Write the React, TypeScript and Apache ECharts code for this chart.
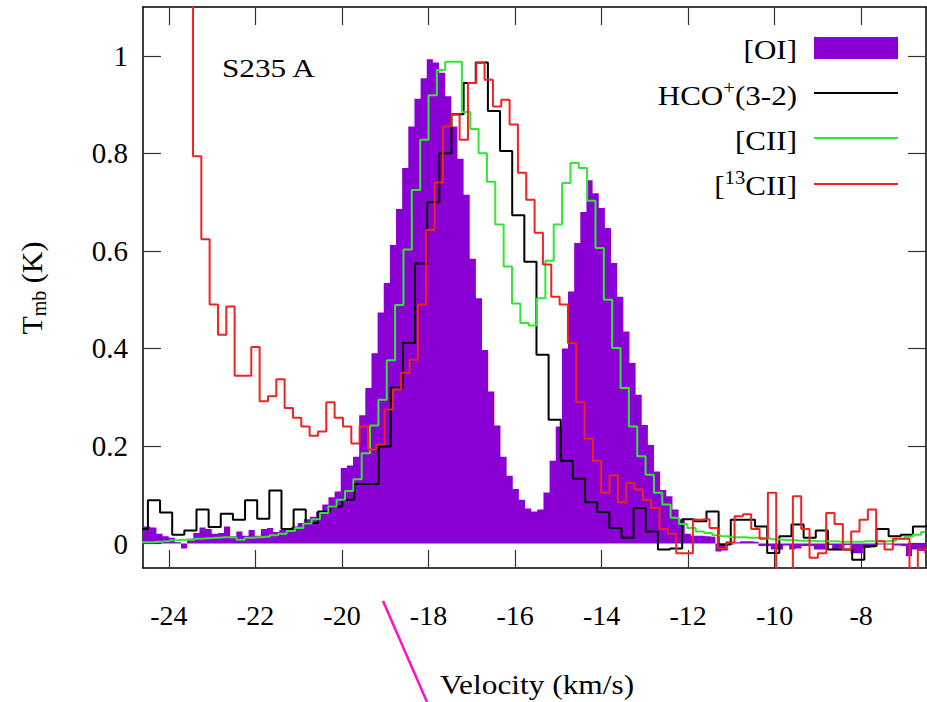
import React, { useEffect, useRef } from "react";
import * as echarts from "echarts";

// ---------- data ----------
const xTickValues = [-24, -22, -20, -18, -16, -14, -12, -10, -8];
const yTickValues = [0, 0.2, 0.4, 0.6, 0.8, 1];

// [OI] spectrum (channel centres start + i*step, km/s ; Tmb in K)
const oiStart = -24.644;
const oiStep = 0.142;
const oiValues = [
  0.035, 0.035, 0.033, 0.02, 0.015, 0.012, 0.003, -0.01, 0.01, 0.022,
  0.033, 0.03, 0.02, 0.022, 0.035, 0.015, 0.025, 0.016, 0.028, 0.016,
  0.03, 0.032, 0.024, 0.028, 0.03, 0.035, 0.042, 0.05, 0.055, 0.065,
  0.08, 0.095, 0.107, 0.155, 0.16, 0.178, 0.263, 0.319, 0.39, 0.474,
  0.534, 0.612, 0.686, 0.77, 0.855, 0.912, 0.954, 0.993, 0.986, 0.965,
  0.917, 0.855, 0.789, 0.715, 0.584, 0.503, 0.397, 0.312, 0.242, 0.178,
  0.139, 0.112, 0.09, 0.072, 0.066, 0.07, 0.105, 0.17, 0.24, 0.4,
  0.517, 0.616, 0.68, 0.745, 0.718, 0.688, 0.647, 0.575, 0.506, 0.435,
  0.37, 0.305, 0.243, 0.202, 0.148, 0.11, 0.097, 0.07, 0.05, 0.02,
  0.016, 0.016, 0.015, 0.014, -0.016, -0.014, -0.002, 0.003, 0.005, 0.005,
  0.004, -0.005, -0.005, -0.012, -0.012, -0.004, -0.012, -0.01, -0.005, -0.005,
  -0.012, -0.012, -0.003, -0.012, -0.01, -0.003, -0.02, -0.02, -0.009, -0.008,
  -0.002, -0.002, -0.002, -0.004, -0.005, -0.026, -0.012, -0.015, -0.02,
];

// HCO+(3-2)
const hcoStart = -24.627;
const hcoStep = 0.2807;
const hcoValues = [
  0.03, 0.089, 0.064, 0.018, 0.027, 0.07, 0.034, 0.061, 0.049, 0.089,
  0.051, 0.109, 0.03, 0.07, 0.042, 0.066, 0.076, 0.09, 0.122, 0.122,
  0.199, 0.32, 0.411, 0.574, 0.7, 0.8, 0.88, 0.944, 0.986, 0.887,
  0.805, 0.673, 0.578, 0.387, 0.254, 0.17, 0.133, 0.085, 0.065, 0.032,
  0.012, 0.073, 0.025, -0.012, -0.01, 0.05, 0.046, 0.066, -0.002, 0.049,
  0.049, 0.035, -0.019, 0.015, 0.039, 0.012, 0.027, -0.012, -0.012, -0.033,
  -0.005, 0.03, 0.015, 0.018, 0.035, 0.035,
];

// [CII]
const ciiStart = -24.659;
const ciiStep = 0.193;
const ciiValues = [
  0.003, 0.003, 0.004, 0.005, 0.007, 0.008, 0.008, 0.01, 0.011, 0.012,
  0.013, 0.013, 0.008, 0.012, 0.013, 0.014, 0.017, 0.02, 0.026, 0.032,
  0.041, 0.05, 0.063, 0.076, 0.09, 0.108, 0.132, 0.185, 0.242, 0.295,
  0.376, 0.489, 0.603, 0.725, 0.828, 0.919, 0.971, 0.988, 0.988, 0.885,
  0.85, 0.8, 0.742, 0.654, 0.568, 0.492, 0.452, 0.447, 0.503, 0.58,
  0.654, 0.739, 0.78, 0.77, 0.703, 0.606, 0.5, 0.401, 0.319, 0.24,
  0.179, 0.141, 0.104, 0.08, 0.053, 0.04, 0.032, 0.025, 0.022, 0.017,
  0.015, 0.013, 0.013, 0.012, 0.012, 0.011, 0.009, 0.008, 0.007, 0.006,
  0.006, 0.005, 0.005, 0.005, 0.004, 0.004, 0.004, 0.005, 0.005, 0.005,
  0.006, 0.01, 0.014, 0.018, 0.024,
];

// [13CII]
const c13Start = -23.541;
const c13Step = 0.1926;
const c13Values = [
  1.5, 0.794, 0.624, 0.49, 0.428, 0.486, 0.344, 0.344, 0.403, 0.292,
  0.302, 0.337, 0.278, 0.258, 0.24, 0.221, 0.23, 0.29, 0.258, 0.24,
  0.205, 0.24, 0.193, 0.203, 0.275, 0.316, 0.35, 0.377, 0.49, 0.643,
  0.74, 0.855, 0.879, 0.828, 0.944, 0.985, 0.951, 0.896, 0.91, 0.859,
  0.76, 0.705, 0.637, 0.572, 0.506, 0.49, 0.411, 0.29, 0.215, 0.17,
  0.104, 0.14, 0.085, 0.124, 0.111, 0.09, 0.073, 0.03, 0.02, -0.02,
  -0.02, 0.049, 0.05, 0.032, -0.01, 0.003, 0.056, 0.06, 0.03, 0.01,
  0.104, -0.08, -0.08, 0.097, 0.03, -0.029, -0.02, 0.063, 0.04, -0.012,
  0.025, 0.049, 0.07, 0.005, -0.012, 0.01, 0.01, -0.08, -0.012, -0.012,
];

// ---------- helpers ----------
const FONT = "Liberation Serif";
const PURPLE = "#8a00d4";
const GREEN = "#33e633";
const RED = "#f02222";

function toPairs(start: number, step: number, vals: number[]) {
  return vals.map((t, i) => [Number((start + i * step).toFixed(4)), t]);
}

function stepSeries(name: string, data: number[][], color: string, fill: boolean) {
  return {
    name,
    type: "line",
    step: "middle",
    data,
    symbol: "none",
    showSymbol: false,
    clip: true,
    lineStyle: fill ? { width: 0, color } : { width: 2, color },
    itemStyle: { color },
    areaStyle: fill ? { color, opacity: 1 } : undefined,
    emphasis: { disabled: true },
  };
}

const tickLine = { color: "#333", width: 1.2 };
const axisLine = { show: true, onZero: false, lineStyle: { color: "#000", width: 1.5 } };

function plainText(text: string, x: number, y: number, size: number, align: string, scaleX: number) {
  return {
    type: "text",
    x,
    y,
    scaleX,
    style: {
      text,
      fontFamily: FONT,
      fontSize: size,
      fill: "#000",
      align,
      verticalAlign: "middle",
    },
  };
}

export default function App() {
  const ref = useRef<HTMLDivElement>(null);

  useEffect(() => {
    if (!ref.current) return;
    const chart = echarts.init(ref.current, undefined, { renderer: "svg" });

    const xBase = {
      type: "value",
      min: -24.6,
      max: -6.5,
      axisLine,
      splitLine: { show: false },
      axisTick: { show: true, inside: true, length: 18, customValues: xTickValues, lineStyle: tickLine },
    };
    const yBase = {
      type: "value",
      min: -0.05,
      max: 1.1,
      axisLine,
      splitLine: { show: false },
      axisTick: { show: true, inside: true, length: 18, customValues: yTickValues, lineStyle: tickLine },
    };

    const richDef = {
      a: { fontFamily: FONT, fontSize: 27, fill: "#000", lineHeight: 34, verticalAlign: "middle" },
      s: { fontFamily: FONT, fontSize: 18, fill: "#000", lineHeight: 18, verticalAlign: "top" },
    };
    const legendRows = [
      { text: "{a|[OI]}", y: 50 },
      { text: "{a|HCO}{s|+}{a|(3-2)}", y: 96 },
      { text: "{a|[CII]}", y: 141 },
      { text: "{a|[}{s|13}{a|CII]}", y: 186 },
    ];

    const option: any = {
      animation: false,
      backgroundColor: "#fff",
      grid: { left: 143, top: 7, width: 783, height: 561, containLabel: false },
      xAxis: [
        {
          ...xBase,
          position: "bottom",
          axisLabel: {
            show: true,
            customValues: xTickValues,
            margin: 33,
            fontFamily: FONT,
            fontSize: 28,
            color: "#000",
            formatter: (v: number) => String(v),
          },
        },
        { ...xBase, position: "top", axisLabel: { show: false } },
      ],
      yAxis: [
        {
          ...yBase,
          position: "left",
          axisLabel: {
            show: true,
            customValues: yTickValues,
            margin: 15,
            fontFamily: FONT,
            fontSize: 29,
            color: "#000",
            formatter: (v: number) => String(v),
          },
        },
        { ...yBase, position: "right", axisLabel: { show: false } },
      ],
      series: [
        stepSeries("[OI]", toPairs(oiStart, oiStep, oiValues), PURPLE, true),
        stepSeries("HCO+(3-2)", toPairs(hcoStart, hcoStep, hcoValues), "#000", false),
        stepSeries("[CII]", toPairs(ciiStart, ciiStep, ciiValues), GREEN, false),
        stepSeries("[13CII]", toPairs(c13Start, c13Step, c13Values), RED, false),
      ],
      graphic: [
        plainText("S235 A", 222, 68, 26, "left", 1.2),
        ...legendRows.map((r) => ({
          type: "text",
          x: 797,
          y: r.y,
          scaleX: 1.15,
          style: {
            text: r.text,
            rich: richDef,
            fontFamily: FONT,
            fontSize: 27,
            fill: "#000",
            align: "right",
            verticalAlign: "middle",
          },
        })),
        { type: "rect", shape: { x: 814, y: 37, width: 84, height: 22 }, style: { fill: PURPLE } },
        { type: "line", shape: { x1: 814, y1: 93, x2: 898, y2: 93 }, style: { stroke: "#000", lineWidth: 2 } },
        { type: "line", shape: { x1: 814, y1: 138, x2: 898, y2: 138 }, style: { stroke: GREEN, lineWidth: 2 } },
        { type: "line", shape: { x1: 814, y1: 184, x2: 898, y2: 184 }, style: { stroke: RED, lineWidth: 2 } },
        plainText("Velocity (km/s)", 537, 685, 28, "center", 1.12),
        {
          type: "text",
          x: 31,
          y: 288,
          rotation: Math.PI / 2,
          style: {
            text: "{a|T}{b|mb}{a| (K)}",
            rich: {
              a: { fontFamily: FONT, fontSize: 30, fill: "#000", lineHeight: 36, verticalAlign: "middle" },
              b: { fontFamily: FONT, fontSize: 20, fill: "#000", lineHeight: 20, verticalAlign: "bottom" },
            },
            fontFamily: FONT,
            fontSize: 30,
            fill: "#000",
            align: "center",
            verticalAlign: "middle",
          },
        },
        {
          type: "line",
          shape: { x1: 383, y1: 601, x2: 427, y2: 702 },
          style: { stroke: "#ff10c8", lineWidth: 2.5 },
        },
      ],
    };

    chart.setOption(option);
    return () => chart.dispose();
  }, []);

  return (
    <div
      ref={ref}
      style={{ position: "absolute", left: 0, top: 0, width: 927, height: 702, background: "#fff" }}
    />
  );
}
